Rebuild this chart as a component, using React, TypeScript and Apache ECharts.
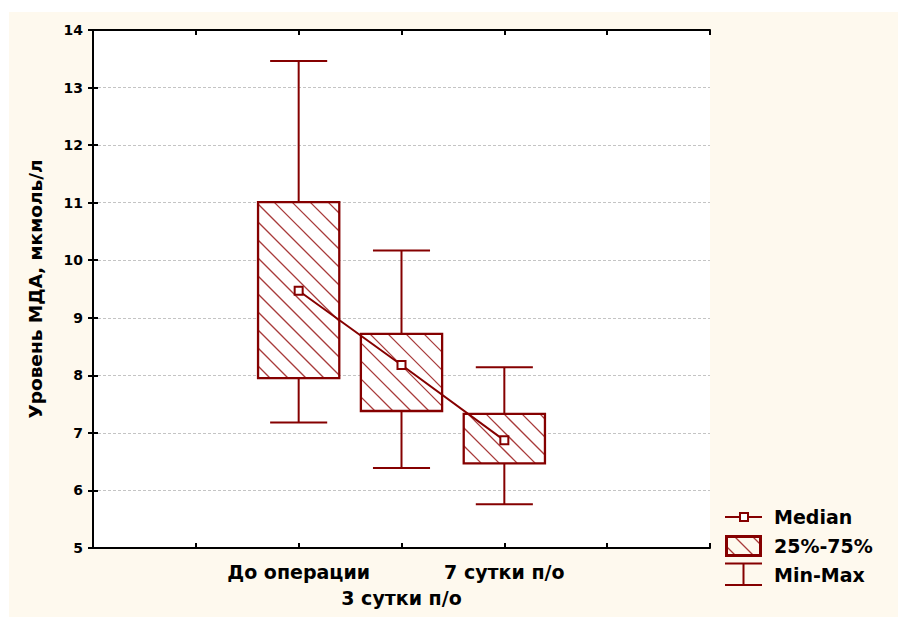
import React, { useEffect, useRef } from "react";
import * as echarts from "echarts";

const categories = ["До операции", "3 сутки п/о", "7 сутки п/о"];
const positions = [2, 3, 4];
const minVals = [7.18, 6.39, 5.76];
const q1Vals = [7.95, 7.38, 6.47];
const medianVals = [9.47, 8.18, 6.87];
const q3Vals = [11.01, 8.72, 7.33];
const maxVals = [13.46, 10.17, 8.14];
const yTicks = [5, 6, 7, 8, 9, 10, 11, 12, 13, 14];
const legendLabels = ["Median", "25%-75%", "Min-Max"];

const DARK = "#850000";
const CREAM = "#fef9ee";
const FONT = '"DejaVu Sans", sans-serif';
const HATCH = "#a83a3a";

function hatchLines(x0: number, y0: number, x1: number, y1: number, sp: number) {
  const out: any[] = [];
  const kStart = Math.ceil((y0 - x1) / sp);
  const kEnd = Math.floor((y1 - x0) / sp);
  for (let k = kStart; k <= kEnd; k++) {
    const c = k * sp;
    const xa = Math.max(x0, y0 - c);
    const xb = Math.min(x1, y1 - c);
    if (xb - xa > 0.5) {
      out.push({
        type: "line",
        shape: { x1: xa, y1: xa + c, x2: xb, y2: xb + c },
        style: { stroke: HATCH, lineWidth: 1.3 },
      });
    }
  }
  return out;
}

export default function App() {
  const ref = useRef<HTMLDivElement>(null);

  useEffect(() => {
    if (!ref.current) return;
    const chart = echarts.init(ref.current, null, { renderer: "svg" });

    const boxData = positions.map((p, i) => [
      p,
      minVals[i],
      q1Vals[i],
      medianVals[i],
      q3Vals[i],
      maxVals[i],
    ]);

    const renderItem = (params: any, api: any) => {
      const x = api.value(0);
      const lo = api.coord([x, api.value(1)]);
      const q1 = api.coord([x, api.value(2)]);
      const q3 = api.coord([x, api.value(4)]);
      const hi = api.coord([x, api.value(5)]);
      const unit = api.size([1, 0])[0];
      const bw = unit * 0.79;
      const cw = unit * 0.555;
      const cx = lo[0];
      const bx0 = cx - bw / 2;
      const bx1 = cx + bw / 2;
      const by0 = q3[1];
      const by1 = q1[1];
      const ls = { stroke: DARK, lineWidth: 2 };
      const children: any[] = [
        { type: "line", shape: { x1: cx, y1: hi[1], x2: cx, y2: by0 }, style: ls },
        { type: "line", shape: { x1: cx, y1: by1, x2: cx, y2: lo[1] }, style: ls },
        { type: "line", shape: { x1: cx - cw / 2, y1: hi[1], x2: cx + cw / 2, y2: hi[1] }, style: ls },
        { type: "line", shape: { x1: cx - cw / 2, y1: lo[1], x2: cx + cw / 2, y2: lo[1] }, style: ls },
        { type: "rect", shape: { x: bx0, y: by0, width: bw, height: by1 - by0 }, style: { fill: "#fff" } },
        ...hatchLines(bx0, by0, bx1, by1, 18),
        {
          type: "rect",
          shape: { x: bx0, y: by0, width: bw, height: by1 - by0 },
          style: { fill: "none", stroke: DARK, lineWidth: 2.3 },
        },
      ];
      return { type: "group", children };
    };

    const labelFor = (v: number) => {
      const idx = positions.indexOf(Math.round(v));
      if (idx < 0) return "";
      return idx === 1 ? "\n" + categories[idx] : categories[idx];
    };

    const axisLine = { show: true, lineStyle: { color: "#000", width: 2 } };
    const axisTick = { show: true, inside: true, length: 5, lineStyle: { color: "#000", width: 2 } };

    const legendText = (text: string, y: number) => ({
      type: "text",
      x: 774,
      y,
      style: {
        text,
        fill: "#000",
        font: `bold 19px ${FONT}`,
        verticalAlign: "middle",
        align: "left",
      },
    });

    const option: any = {
      animation: false,
      backgroundColor: "transparent",
      grid: {
        left: 93,
        top: 30,
        right: 188,
        bottom: 69,
        show: true,
        backgroundColor: "#fff",
        borderWidth: 0,
      },
      xAxis: [
        {
          type: "value",
          min: 0,
          max: 6,
          interval: 1,
          position: "bottom",
          axisLine,
          axisTick,
          splitLine: { show: false },
          axisLabel: {
            formatter: labelFor,
            fontFamily: FONT,
            fontWeight: "bold",
            fontSize: 19,
            color: "#000",
            margin: 11,
            lineHeight: 26,
          },
        },
        {
          type: "value",
          min: 0,
          max: 6,
          interval: 1,
          position: "top",
          axisLine,
          axisTick,
          splitLine: { show: false },
          axisLabel: { show: false },
        },
      ],
      yAxis: [
        {
          type: "value",
          min: yTicks[0],
          max: yTicks[yTicks.length - 1],
          interval: 1,
          position: "left",
          axisLine,
          axisTick,
          name: "Уровень МДА, мкмоль/л",
          nameLocation: "middle",
          nameGap: 48,
          nameTextStyle: {
            fontFamily: FONT,
            fontWeight: "bold",
            fontSize: 18.5,
            color: "#000",
          },
          splitLine: {
            show: true,
            lineStyle: { color: "#c4c4c4", type: [3, 2], width: 1 },
          },
          axisLabel: {
            fontFamily: FONT,
            fontWeight: "bold",
            fontSize: 14,
            color: "#000",
            margin: 10,
          },
        },
        {
          type: "value",
          min: yTicks[0],
          max: yTicks[yTicks.length - 1],
          interval: 1,
          position: "right",
          axisLine,
          axisTick,
          splitLine: { show: false },
          axisLabel: { show: false },
        },
      ],
      series: [
        {
          type: "custom",
          renderItem,
          data: boxData,
          encode: { x: 0, y: [1, 2, 3, 4, 5] },
          z: 2,
        },
        {
          type: "line",
          data: positions.map((p, i) => [p, medianVals[i]]),
          symbol: "rect",
          symbolSize: 8,
          lineStyle: { color: DARK, width: 2 },
          itemStyle: { color: "#fff", borderColor: DARK, borderWidth: 2 },
          z: 3,
        },
      ],
      graphic: [
        {
          type: "group",
          children: [
            { type: "line", shape: { x1: 725, y1: 517, x2: 762, y2: 517 }, style: { stroke: DARK, lineWidth: 2 } },
            { type: "rect", shape: { x: 740, y: 513, width: 8, height: 8 }, style: { fill: "#fff", stroke: DARK, lineWidth: 2 } },
            legendText(legendLabels[0], 517),
            ...hatchLines(727, 537, 760, 555, 18),
            { type: "rect", shape: { x: 726.5, y: 536.5, width: 34, height: 19 }, style: { fill: "none", stroke: DARK, lineWidth: 3 } },
            legendText(legendLabels[1], 546),
            { type: "line", shape: { x1: 725, y1: 563.5, x2: 762, y2: 563.5 }, style: { stroke: DARK, lineWidth: 2 } },
            { type: "line", shape: { x1: 743.5, y1: 563.5, x2: 743.5, y2: 585 }, style: { stroke: DARK, lineWidth: 2 } },
            { type: "line", shape: { x1: 725, y1: 585, x2: 762, y2: 585 }, style: { stroke: DARK, lineWidth: 2 } },
            legendText(legendLabels[2], 575),
          ],
        },
      ],
    };

    chart.setOption(option);
    return () => chart.dispose();
  }, []);

  return (
    <div style={{ position: "fixed", left: 0, top: 0, width: 898, height: 617, background: "#fff" }}>
      <div style={{ position: "absolute", left: 9, top: 12, right: 0, bottom: 0, background: CREAM }} />
      <div ref={ref} style={{ position: "absolute", left: 0, top: 0, width: 898, height: 617 }} />
    </div>
  );
}
